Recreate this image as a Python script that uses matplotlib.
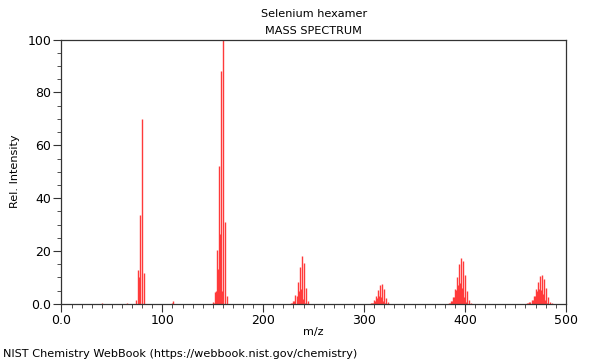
import matplotlib
matplotlib.use("Agg")
import matplotlib.pyplot as plt
from matplotlib.ticker import MultipleLocator, FuncFormatter

# m/z and relative intensity, cluster by cluster
se1_mz = [40, 65, 74, 76, 77, 78, 80, 82]
se1_int = [0.3, 0.5, 1.5, 12.9, 10.2, 33.8, 70.0, 11.5]

misc_mz = [110, 111]
misc_int = [0.5, 0.9]

se2_mz = [150, 151, 152, 153, 154, 155, 156, 157, 158, 159, 160, 162, 164]
se2_int = [0.6, 0.5, 4.6, 5.0, 20.3, 13.0, 52.0, 26.5, 88.0, 5.0, 100.0, 31.0, 2.8]

se3_mz = [228, 229, 230, 231, 232, 233, 234, 235, 236, 237, 238, 239, 240, 241, 242, 244]
se3_int = [0.2, 0.25, 1.0, 1.1, 3.3, 2.9, 8.2, 4.8, 14.1, 5.5, 18.0, 1.7, 15.6, 0.15, 5.9, 0.95]

se4_mz = [305, 306, 307, 308, 309, 310, 311, 312, 313, 314, 315, 316, 317, 318,
          319, 320, 321, 322, 324, 326]
se4_int = [0.03, 0.11, 0.15, 0.42, 0.50, 1.28, 1.25, 2.92, 2.26, 5.26, 2.89, 7.19,
           2.50, 7.60, 0.94, 5.68, 0.15, 2.37, 0.52, 0.06]

se5_mz = [384, 385, 386, 387, 388, 389, 390, 391, 392, 393, 394, 395, 396, 397,
          398, 399, 400, 401, 402, 404, 406]
se5_int = [0.26, 0.38, 0.91, 1.16, 2.53, 2.74, 5.65, 5.11, 10.17, 7.30, 14.89, 7.81,
           17.40, 5.84, 16.13, 2.43, 11.03, 0.54, 4.85, 1.29, 0.20]

se6_mz = [461, 462, 463, 464, 465, 466, 467, 468, 469, 470, 471, 472, 473, 474,
          475, 476, 477, 478, 479, 480, 481, 482, 484, 486]
se6_int = [0.07, 0.17, 0.25, 0.53, 0.71, 1.40, 1.63, 3.04, 3.08, 5.52, 4.70, 8.38,
           5.72, 10.59, 5.39, 11.0, 3.69, 9.26, 1.62, 5.97, 0.43, 2.70, 0.82, 0.16]

mz = se1_mz + misc_mz + se2_mz + se3_mz + se4_mz + se5_mz + se6_mz
intensity = se1_int + misc_int + se2_int + se3_int + se4_int + se5_int + se6_int

RED = "#ff3a3a"
SPINE = "#333333"
TEXT_SIZE = 8.15

plt.rcParams.update({
    "font.family": "DejaVu Sans",
    "font.size": 8,
})

fig = plt.figure(figsize=(6.0, 3.6), dpi=100)
ax = fig.add_axes([0.1025, 0.156, 0.8405, 0.734])

ax.vlines(mz, 0, intensity, color=RED, linewidth=1.0)

ax.set_xlim(0, 500)
ax.set_ylim(0, 100)
ax.xaxis.set_major_locator(MultipleLocator(100))
ax.xaxis.set_minor_locator(MultipleLocator(10))
ax.yaxis.set_major_locator(MultipleLocator(20))
ax.yaxis.set_minor_locator(MultipleLocator(5))
fmt = FuncFormatter(lambda v, _: "0.0" if v == 0 else f"{v:.0f}")
ax.xaxis.set_major_formatter(fmt)
ax.yaxis.set_major_formatter(fmt)
ax.tick_params(which="major", direction="out", length=6, width=0.8,
               labelsize=9, color=SPINE, pad=1.5)
ax.tick_params(which="minor", direction="out", length=3, width=0.6, color=SPINE)
for spine in ax.spines.values():
    spine.set_color(SPINE)
    spine.set_linewidth(0.9)

ax.set_xlabel("m/z", fontsize=TEXT_SIZE, labelpad=0)
ax.set_ylabel("Rel. Intensity", fontsize=TEXT_SIZE, labelpad=5)

fig.text(0.523, 0.962, "Selenium hexamer", ha="center", va="center", fontsize=TEXT_SIZE)
fig.text(0.523, 0.915, "MASS SPECTRUM", ha="center", va="center", fontsize=TEXT_SIZE)
fig.text(0.005, 0.018, "NIST Chemistry WebBook (https://webbook.nist.gov/chemistry)",
         ha="left", va="center", fontsize=TEXT_SIZE)

fig.savefig("out.png", dpi=100)
